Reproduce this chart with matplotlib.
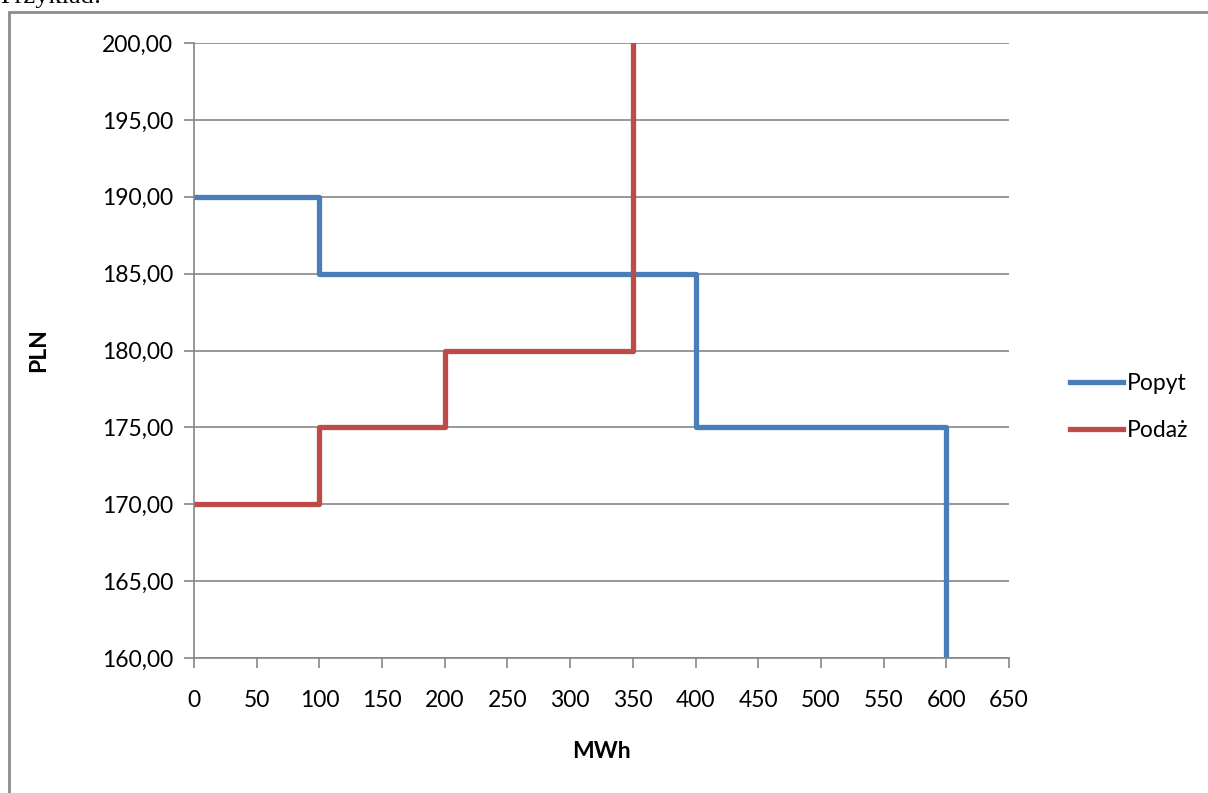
import matplotlib.pyplot as plt
from matplotlib.patches import Rectangle

# dane: krzywe popytu i podazy (schodkowe)
popyt_mwh = [0, 100, 400, 600]
popyt_pln = [190, 185, 175, 160]
podaz_mwh = [0, 100, 200, 350]
podaz_pln = [170, 175, 180, 200]

y_ticks = [160, 165, 170, 175, 180, 185, 190, 195, 200]
x_ticks = [0, 50, 100, 150, 200, 250, 300, 350, 400, 450, 500, 550, 600, 650]

plt.rcParams['font.family'] = ['Lato', 'DejaVu Sans']

fig = plt.figure(figsize=(12.08, 7.93), dpi=100)
ax = fig.add_axes([194 / 1208, 1 - 658 / 793, 815 / 1208, 615 / 793])

# ramka wykresu i tekst nad nim
fig.patches.append(Rectangle((9 / 1208, -0.05), 1.2, 1 - 12 / 793 + 0.05,
                             transform=fig.transFigure, fill=False,
                             edgecolor='#8c8c8c', linewidth=2))
fig.text(0.0, 1 - 3 / 793, 'Przykład:', family='Liberation Serif', fontsize=19,
         va='baseline', ha='left')

ax.step(popyt_mwh, popyt_pln, where='post', color='#4a7ebb', lw=3.8, label='Popyt')
ax.step(podaz_mwh, podaz_pln, where='post', color='#be4b48', lw=3.8, label='Podaż')

ax.set_xlim(0, 650)
ax.set_ylim(160, 200)
ax.set_xticks(x_ticks)
ax.set_yticks(y_ticks)
ax.set_yticklabels([f'{v:.2f}'.replace('.', ',') for v in y_ticks])
ax.grid(axis='y', color='#868686', lw=1.2)
ax.set_axisbelow(True)

for s in ['top', 'right']:
    ax.spines[s].set_visible(False)
for s in ['left', 'bottom']:
    ax.spines[s].set_color('#868686')
    ax.spines[s].set_linewidth(1.2)
ax.tick_params(direction='out', length=7, width=1.2, color='#868686',
               labelsize=16.5)
ax.tick_params(axis='x', pad=16)
ax.tick_params(axis='y', pad=8)

ax.set_xlabel('MWh', fontsize=16.5, fontweight='bold', labelpad=22)
ax.set_ylabel('PLN', fontsize=16.5, fontweight='bold', labelpad=38)

ax.legend(loc='center left', bbox_to_anchor=(1.05, 0.408), frameon=False,
          fontsize=16.5, handlelength=2.3, handletextpad=0.15, labelspacing=1.15)

fig.savefig('out.png', dpi=100)
